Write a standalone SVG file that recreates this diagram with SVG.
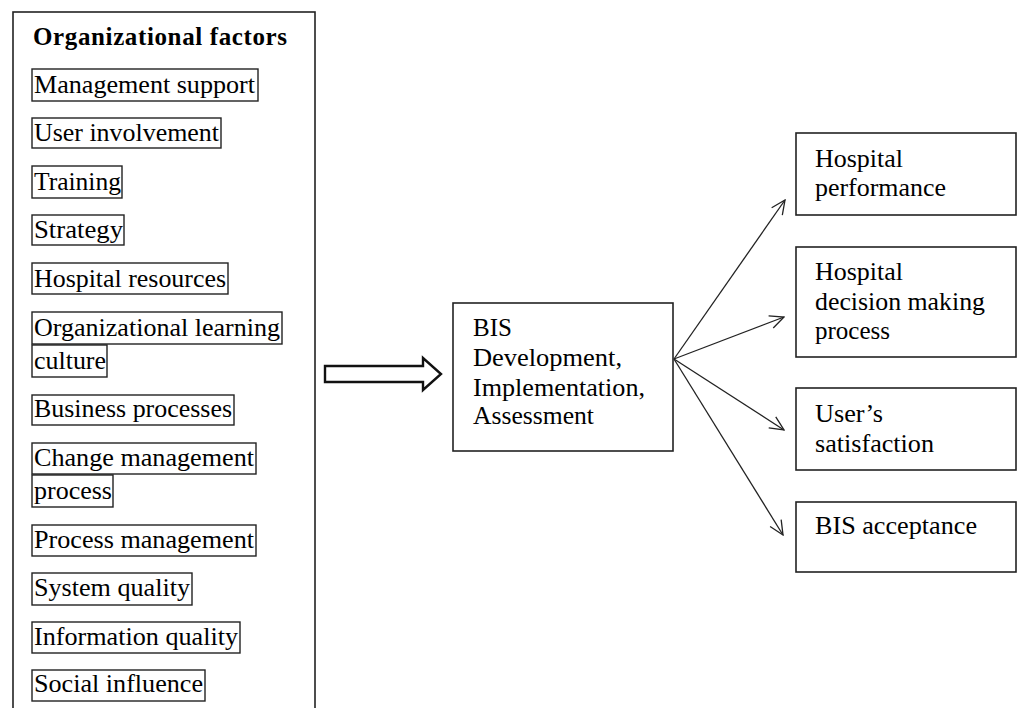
<svg xmlns="http://www.w3.org/2000/svg" width="1017" height="708" viewBox="0 0 1017 708">
<defs>
<style>
.box{fill:#fff;stroke:#222;stroke-width:1.6}
.ib{fill:#fff;stroke:#222;stroke-width:1.4}
.t{font-family:"Liberation Serif","Times New Roman",serif;font-size:25px;fill:#000}
.b{font-weight:bold}
.c{stroke:#222;stroke-width:1.3;fill:none}
</style>
<marker id="ah" viewBox="0 0 16 16" refX="15" refY="8" markerWidth="16" markerHeight="16" markerUnits="userSpaceOnUse" orient="auto">
<path d="M1,1.5 L15,8 L1,14.5" fill="none" stroke="#222" stroke-width="1.3"/>
</marker>
</defs>
<rect width="1017" height="708" fill="#fff"/>

<g id="org-factors">
<rect class="box" x="13" y="12" width="302" height="720"/>
<text class="t b" x="33" y="45" textLength="254" lengthAdjust="spacing">Organizational factors</text>
<rect class="ib" x="32" y="69" width="226" height="32"/>
<text class="t" x="34" y="93" textLength="221" lengthAdjust="spacingAndGlyphs">Management support</text>
<rect class="ib" x="32" y="118" width="189" height="30"/>
<text class="t" x="34" y="141" textLength="185" lengthAdjust="spacingAndGlyphs">User involvement</text>
<rect class="ib" x="32" y="166" width="90" height="32"/>
<text class="t" x="34" y="190" textLength="87" lengthAdjust="spacingAndGlyphs">Training</text>
<rect class="ib" x="32" y="215" width="92" height="30"/>
<text class="t" x="34" y="238" textLength="89" lengthAdjust="spacingAndGlyphs">Strategy</text>
<rect class="ib" x="32" y="263" width="196" height="31"/>
<text class="t" x="34" y="287" textLength="192" lengthAdjust="spacingAndGlyphs">Hospital resources</text>
<rect class="ib" x="32" y="312" width="250" height="32"/>
<text class="t" x="34" y="336" textLength="246" lengthAdjust="spacingAndGlyphs">Organizational learning</text>
<rect class="ib" x="32" y="345" width="75" height="32"/>
<text class="t" x="34" y="369" textLength="72" lengthAdjust="spacingAndGlyphs">culture</text>
<rect class="ib" x="32" y="395" width="202" height="30"/>
<text class="t" x="34" y="417" textLength="198" lengthAdjust="spacingAndGlyphs">Business processes</text>
<rect class="ib" x="32" y="443" width="224" height="31"/>
<text class="t" x="34" y="466" textLength="220" lengthAdjust="spacingAndGlyphs">Change management</text>
<rect class="ib" x="32" y="475" width="81" height="32"/>
<text class="t" x="34" y="499" textLength="78" lengthAdjust="spacingAndGlyphs">process</text>
<rect class="ib" x="32" y="525" width="224" height="31"/>
<text class="t" x="34" y="548" textLength="220" lengthAdjust="spacingAndGlyphs">Process management</text>
<rect class="ib" x="32" y="573" width="160" height="32"/>
<text class="t" x="34" y="596" textLength="156" lengthAdjust="spacingAndGlyphs">System quality</text>
<rect class="ib" x="32" y="622" width="208" height="31"/>
<text class="t" x="34" y="645" textLength="204" lengthAdjust="spacingAndGlyphs">Information quality</text>
<rect class="ib" x="32" y="670" width="173" height="31"/>
<text class="t" x="34" y="692" textLength="169" lengthAdjust="spacingAndGlyphs">Social influence</text>
</g>

<g id="bis">
<rect class="box" x="453" y="303" width="220" height="148"/>
<text class="t" x="473" y="336">BIS</text>
<text class="t" x="473" y="366" textLength="149" lengthAdjust="spacingAndGlyphs">Development,</text>
<text class="t" x="473" y="396" textLength="172" lengthAdjust="spacingAndGlyphs">Implementation,</text>
<text class="t" x="473" y="424" textLength="121" lengthAdjust="spacingAndGlyphs">Assessment</text>
</g>

<g id="hospital-performance">
<rect class="box" x="796" y="133" width="220" height="82"/>
<text class="t" x="815" y="167" textLength="88" lengthAdjust="spacingAndGlyphs">Hospital</text>
<text class="t" x="815" y="196" textLength="131" lengthAdjust="spacingAndGlyphs">performance</text>
</g>

<g id="hospital-decision">
<rect class="box" x="796" y="247" width="220" height="110"/>
<text class="t" x="815" y="280" textLength="88" lengthAdjust="spacingAndGlyphs">Hospital</text>
<text class="t" x="815" y="310" textLength="170" lengthAdjust="spacingAndGlyphs">decision making</text>
<text class="t" x="815" y="339" textLength="75" lengthAdjust="spacingAndGlyphs">process</text>
</g>

<g id="user-satisfaction">
<rect class="box" x="796" y="388" width="220" height="82"/>
<text class="t" x="815" y="422" textLength="68" lengthAdjust="spacingAndGlyphs">User’s</text>
<text class="t" x="815" y="452" textLength="119" lengthAdjust="spacingAndGlyphs">satisfaction</text>
</g>

<g id="bis-acceptance">
<rect class="box" x="796" y="502" width="220" height="70"/>
<text class="t" x="815" y="534" textLength="162" lengthAdjust="spacingAndGlyphs">BIS acceptance</text>
</g>

<g id="connectors">
<polygon points="325,366 423,366 423,358 441,374 423,390 423,382 325,382" fill="#fff" stroke="#111" stroke-width="2.4" stroke-linejoin="miter"/>
<line class="c" x1="674" y1="359" x2="785" y2="200" marker-end="url(#ah)"/>
<line class="c" x1="674" y1="359" x2="784" y2="317" marker-end="url(#ah)"/>
<line class="c" x1="674" y1="359" x2="784" y2="430" marker-end="url(#ah)"/>
<line class="c" x1="674" y1="359" x2="783" y2="535" marker-end="url(#ah)"/>
</g>
</svg>
